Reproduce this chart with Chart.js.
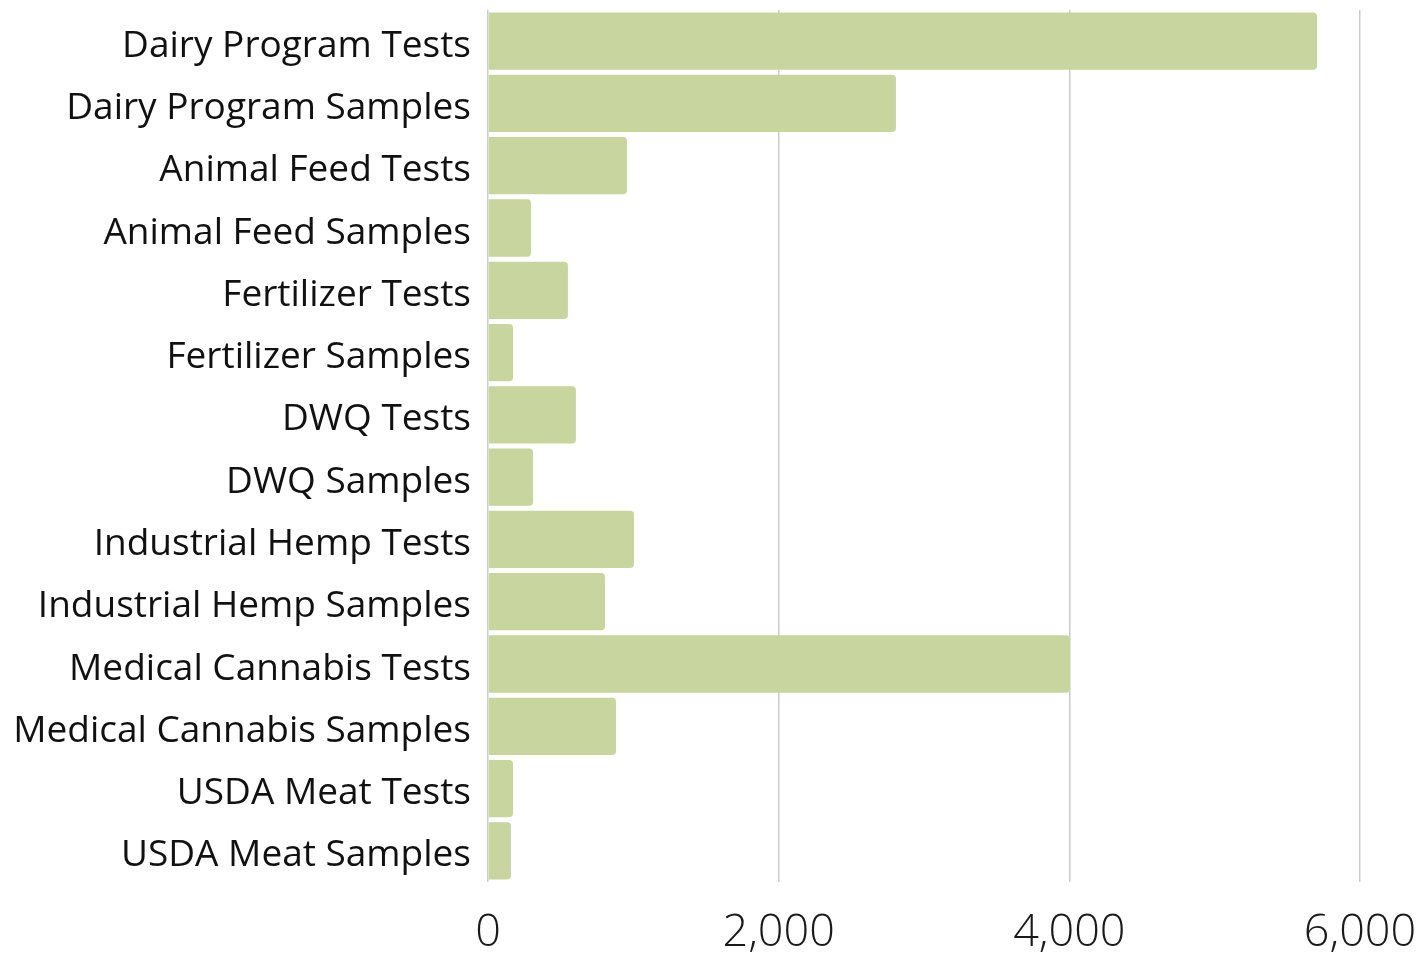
<!DOCTYPE html>
<html>
<head>
<meta charset="utf-8">
<script src="https://cdn.jsdelivr.net/npm/chart.js@4.4.1/dist/chart.umd.min.js"></script>
<style>
html,body{margin:0;padding:0;background:#fff;}
#wrap{width:1427px;height:957px;position:relative;}
</style>
</head>
<body>
<div id="wrap"><canvas id="c"></canvas></div>
<script>
const categories = [
  "Dairy Program Tests",
  "Dairy Program Samples",
  "Animal Feed Tests",
  "Animal Feed Samples",
  "Fertilizer Tests",
  "Fertilizer Samples",
  "DWQ Tests",
  "DWQ Samples",
  "Industrial Hemp Tests",
  "Industrial Hemp Samples",
  "Medical Cannabis Tests",
  "Medical Cannabis Samples",
  "USDA Meat Tests",
  "USDA Meat Samples"
];
const values = [5704, 2807, 956, 296, 550, 172, 605, 310, 1005, 805, 4005, 881, 172, 158];
const xTicks = [0, 2000, 4000, 6000];

new Chart(document.getElementById('c'), {
  type: 'bar',
  data: {
    labels: categories,
    datasets: [{
      data: values,
      backgroundColor: '#c8d59e',
      borderRadius: 4,
      borderSkipped: 'start',
      barPercentage: 0.92,
      categoryPercentage: 1.0
    }]
  },
  options: {
    indexAxis: 'y',
    responsive: true,
    maintainAspectRatio: false,
    animation: false,
    layout: { padding: { top: 10, right: 67, left: 0, bottom: 0 } },
    plugins: { legend: { display: false }, tooltip: { enabled: false } },
    scales: {
      x: {
        min: 0, max: 6000,
        afterBuildTicks: (s) => { s.ticks = xTicks.map(v => ({ value: v })); },
        grid: { color: '#cccccc', lineWidth: 1.5, drawTicks: false },
        border: { display: false },
        ticks: {
          color: '#1a1a1a',
          padding: 24,
          maxRotation: 0,
          font: { family: 'Open Sans', size: 45, weight: 300 },
          callback: (v) => v.toLocaleString('en-US')
        },
        afterFit: (s) => { s.height = 75; s.paddingLeft = 0; s.paddingRight = 0; }
      },
      y: {
        grid: { display: false, drawTicks: false },
        border: { display: false },
        ticks: {
          color: '#111111',
          padding: 17,
          labelOffset: 5,
          font: { family: 'Open Sans', size: 37, weight: 400 }
        },
        afterFit: (s) => { s.width = 488; s.paddingTop = 0; s.paddingBottom = 0; }
      }
    }
  }
});
</script>
</body>
</html>
